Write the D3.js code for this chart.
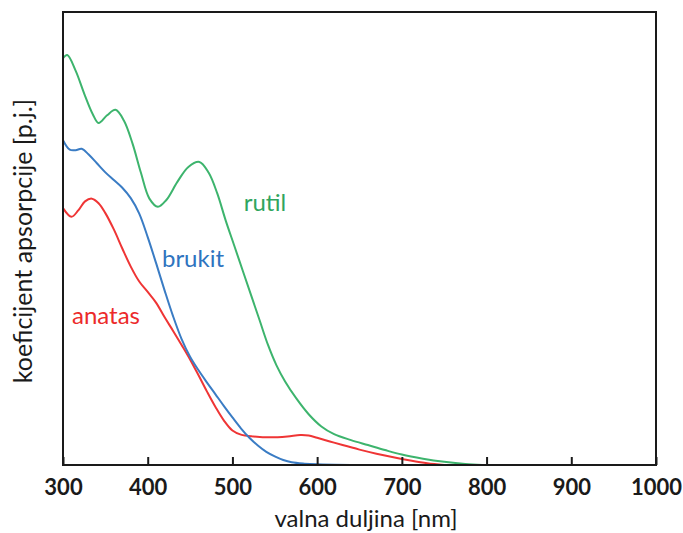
<!DOCTYPE html>
<html>
<head>
<meta charset="utf-8">
<script src="https://cdn.jsdelivr.net/npm/d3@7"></script>
<style>
  html, body { margin: 0; padding: 0; background: #fff; }
  svg { display: block; }
</style>
</head>
<body>
<svg id="chart" width="683" height="533"></svg>
<script>
// ---- data (wavelength in nm, absorption in arbitrary units 0..100) ----
const xTicks = [300, 400, 500, 600, 700, 800, 900, 1000];

const rutilNm  = [300, 305, 315, 325, 335, 342, 352, 362, 372, 382, 392, 402, 412, 422, 435, 448, 461, 472, 482, 492, 502, 512, 522, 532, 542, 552, 562, 575, 590, 605, 620, 640, 660, 680, 700, 725, 750, 775, 795];
const rutilVal = [89.8, 90.5, 87.0, 82.0, 77.5, 75.5, 77.2, 78.4, 76.0, 71.0, 64.5, 58.8, 57.0, 58.5, 62.5, 65.8, 66.9, 64.5, 60.0, 54.0, 48.5, 43.0, 37.5, 32.0, 26.5, 22.0, 18.5, 14.8, 11.2, 8.5, 6.8, 5.5, 4.4, 3.3, 2.3, 1.4, 0.7, 0.2, 0.0];

const brukitNm  = [300, 308, 315, 322, 330, 340, 350, 360, 370, 380, 390, 400, 410, 420, 430, 440, 450, 460, 470, 480, 490, 500, 510, 520, 530, 540, 550, 560, 570, 585, 600, 640];
const brukitVal = [71.7, 69.6, 69.5, 69.8, 68.6, 66.6, 64.6, 62.9, 61.2, 58.9, 55.5, 50.3, 44.5, 38.5, 32.8, 27.8, 23.9, 20.9, 18.2, 15.6, 13.0, 10.5, 8.1, 6.0, 4.3, 2.9, 1.9, 1.1, 0.6, 0.3, 0.15, 0.0];

const anatasNm  = [300, 310, 318, 326, 334, 342, 350, 360, 370, 380, 390, 400, 410, 420, 430, 440, 450, 460, 470, 480, 490, 500, 510, 525, 545, 565, 580, 590, 600, 615, 630, 650, 670, 690, 710, 730, 750];
const anatasVal = [56.7, 54.8, 56.2, 58.2, 58.8, 57.8, 55.6, 52.0, 47.8, 43.8, 40.5, 38.2, 35.8, 32.6, 29.6, 26.5, 23.3, 19.8, 16.2, 12.8, 9.8, 7.6, 6.7, 6.3, 6.1, 6.3, 6.6, 6.5, 6.0, 5.2, 4.4, 3.4, 2.5, 1.7, 1.0, 0.4, 0.0];

const seriesNames  = ["rutil", "brukit", "anatas"];
const seriesColors = ["#3db46d", "#3a7cc4", "#ef3535"];
const labelColors  = ["#2fa55e", "#2f74bf", "#ec2a2a"];

// ---- layout ----
const svg = d3.select("#chart");
const pLeft = 63, pRight = 656, pTop = 12, pBottom = 465;
const font = "Lato, 'Open Sans', sans-serif";

const x = d3.scaleLinear().domain([300, 1000]).range([pLeft, pRight]);
const y = d3.scaleLinear().domain([0, 100]).range([pBottom, pTop]);

const series = [
  { name: seriesNames[0], nm: rutilNm,  val: rutilVal,  color: seriesColors[0], lc: labelColors[0], lx: 265, ly: 211 },
  { name: seriesNames[1], nm: brukitNm, val: brukitVal, color: seriesColors[1], lc: labelColors[1], lx: 193, ly: 267 },
  { name: seriesNames[2], nm: anatasNm, val: anatasVal, color: seriesColors[2], lc: labelColors[2], lx: 106, ly: 324 }
];

const line = d3.line()
  .x(d => x(d[0]))
  .y(d => y(d[1]))
  .curve(d3.curveCatmullRom.alpha(0.5));

const g = svg.append("g");

[...series].reverse().forEach(s => {
  g.append("path")
    .datum(s.nm.map((n, i) => [n, s.val[i]]))
    .attr("fill", "none")
    .attr("stroke", s.color)
    .attr("stroke-width", 2)
    .attr("stroke-linejoin", "round")
    .attr("d", line);
});

// frame
svg.append("rect")
  .attr("x", pLeft).attr("y", pTop)
  .attr("width", pRight - pLeft).attr("height", pBottom - pTop)
  .attr("fill", "none").attr("stroke", "#1a1a1a").attr("stroke-width", 2);

// x axis: ticks inward, bold labels
const xAxis = d3.axisBottom(x).tickValues(xTicks).tickSizeInner(-8).tickSizeOuter(0).tickPadding(14).tickFormat(d3.format("d"));
const ax = svg.append("g").attr("transform", `translate(0,${pBottom})`).call(xAxis);
ax.select(".domain").remove();
ax.selectAll(".tick line").attr("stroke", "#1a1a1a").attr("stroke-width", 2);
ax.selectAll(".tick text")
  .attr("fill", "#1a1a1a")
  .style("font-family", font)
  .style("font-weight", "bold")
  .style("font-size", "22px");

// axis titles
svg.append("text")
  .attr("x", 366).attr("y", 527)
  .attr("text-anchor", "middle")
  .attr("fill", "#1a1a1a")
  .style("font-family", font)
  .style("font-size", "24px")
  .text("valna duljina [nm]");

svg.append("text")
  .attr("transform", "translate(32,241) rotate(-90)")
  .attr("text-anchor", "middle")
  .attr("fill", "#1a1a1a")
  .style("font-family", font)
  .style("font-size", "25px")
  .text("koeficijent apsorpcije [p.j.]");

// series labels
series.forEach(s => {
  svg.append("text")
    .attr("x", s.lx).attr("y", s.ly)
    .attr("text-anchor", "middle")
    .attr("fill", s.lc)
    .style("font-family", font)
    .style("font-size", "24px")
    .text(s.name);
});
</script>
</body>
</html>
